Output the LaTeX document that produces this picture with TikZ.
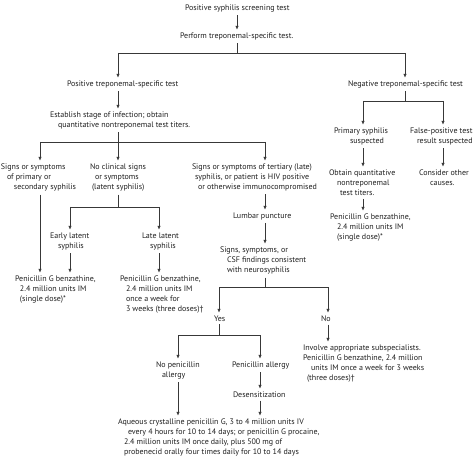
\documentclass[tikz,border=0pt]{standalone}
\usepackage{fontspec}
\setmainfont{PT Sans}
\usetikzlibrary{arrows.meta}
\begin{document}
\begin{tikzpicture}[x=1pt,y=-1pt,
  txt/.style={anchor=north west,inner sep=0pt,outer xsep=0pt,outer ysep=3.2pt,align=left,yshift=0.6pt,
    font=\fontsize{8}{10.2}\selectfont,text=black!88},
  ln/.style={draw=black!78,line width=0.6pt},
  arr/.style={ln,-{Triangle[length=3.6pt,width=3pt]}}]
\useasboundingbox (0,0) rectangle (474,457);
\newcommand\ind[1]{\hspace*{#1pt}}
% nodes (north west at line-1 centre minus 3)
\node[txt] (top) at (185,2) {Positive syphilis screening test};
\node[txt] (perform) at (180,30) {Perform treponemal-specific test.};
\node[txt] (postest) at (67,78) {Positive treponemal-specific test};
\node[txt] (negtest) at (348,78) {Negative treponemal-specific test};
\node[txt] (establish) at (50,109) {Establish stage of infection; obtain\\\ind{8}quantitative nontreponemal test titers.};
\node[txt] (primsusp) at (334,125) {Primary syphilis\\\ind{16}suspected};
\node[txt] (falsepos) at (410,125) {False-positive test\\\ind{7}result suspected};
\node[txt] (primsec) at (1,161) {Signs or symptoms\\\ind{6}of primary or\\\ind{13}secondary syphilis};
\node[txt] (noclin) at (90,161) {No clinical signs\\\ind{5}or symptoms\\\ind{2}(latent syphilis)};
\node[txt] (tertiary) at (192,161) {Signs or symptoms of tertiary (late)\\\ind{3}syphilis, or patient is HIV positive\\\ind{6}or otherwise immunocompromised};
\node[txt] (obtain) at (329,167) {Obtain quantitative\\\ind{8}nontreponemal\\\ind{11}test titers.};
\node[txt] (consider) at (419,167) {Consider other\\\ind{11}causes.};
\node[txt] (penright) at (330,211) {Penicillin G benzathine,\\\ind{7}2.4 million units IM\\\ind{7}(single dose)*};
\node[txt] (lumbar) at (233,210) {Lumbar puncture};
\node[txt] (early) at (50,230) {Early latent\\\ind{8}syphilis};
\node[txt] (late) at (142,230) {Late latent\\\ind{8}syphilis};
\node[txt] (csf) at (220,244) {Signs, symptoms, or\\\ind{7}CSF findings consistent\\\ind{7}with neurosyphilis};
\node[txt] (penearly) at (15,273) {Penicillin G benzathine,\\\ind{5}2.4 million units IM\\\ind{5}(single dose)*};
\node[txt] (penlate) at (120,273) {Penicillin G benzathine,\\\ind{6}2.4 million units IM\\\ind{6}once a week for\\\ind{6}3 weeks (three doses)†};
\node[txt] (yes) at (214,313) {Yes};
\node[txt] (no) at (321,313) {No};
\node[txt] (involve) at (303,342) {Involve appropriate subspecialists.\\Penicillin G benzathine, 2.4 million\\\ind{8}units IM once a week for 3 weeks\\\ind{4}(three doses)†};
\node[txt] (nopen) at (156,359) {No penicillin\\\ind{6}allergy};
\node[txt] (penallergy) at (232,359) {Penicillin allergy};
\node[txt] (desens) at (233,389) {Desensitization};
\node[txt,font=\fontsize{8}{10}\selectfont] (aqueous) at (118,416) {Aqueous crystalline penicillin G, 3 to 4 million units IV\\\ind{10}every 4 hours for 10 to 14 days; or penicillin G procaine,\\\ind{6}2.4 million units IM once daily, plus 500 mg of\\\ind{6}probenecid orally four times daily for 10 to 14 days};
% junctions
\coordinate (j0) at (237,53);
\coordinate (jpos) at (118,53);
\coordinate (jneg) at (405,53);
\coordinate (j2) at (118,142);
\coordinate (j2a) at (40,142);
\coordinate (j2c) at (265,142);
\coordinate (j3) at (405,101);
\coordinate (j3a) at (363,101);
\coordinate (j3b) at (443,101);
\coordinate (j4) at (118,207);
\coordinate (j4a) at (70,207);
\coordinate (j4b) at (159,207);
\coordinate (j5) at (265,287);
\coordinate (j5a) at (219,287);
\coordinate (j5b) at (328,287);
\coordinate (j6) at (219,335);
\coordinate (j6a) at (178,335);
\coordinate (j6b) at (260,335);
% connectors
\draw[arr] (top.south -| j0) -- (perform.north -| j0);
\draw[ln] (perform.south -| j0) -- (j0);
\draw[ln] (jpos) -- (jneg);
\draw[arr] (jpos) -- (postest.north -| jpos);
\draw[arr] (jneg) -- (negtest.north -| jneg);
\draw[arr] (postest.south -| jpos) -- (establish.north -| jpos);
\draw[ln] (establish.south -| j2) -- (j2);
\draw[ln] (j2a) -- (j2c);
\draw[arr] (j2a) -- (primsec.north -| j2a);
\draw[arr] (j2) -- (noclin.north -| j2);
\draw[arr] (j2c) -- (tertiary.north -| j2c);
\draw[ln] (negtest.south -| j3) -- (j3);
\draw[ln] (j3a) -- (j3b);
\draw[arr] (j3a) -- (primsusp.north -| j3a);
\draw[arr] (j3b) -- (falsepos.north -| j3b);
\draw[arr] (primsusp.south -| j3a) -- (obtain.north -| j3a);
\draw[arr] (obtain.south -| j3a) -- (penright.north -| j3a);
\draw[arr] (falsepos.south -| j3b) -- (consider.north -| j3b);
\draw[arr] (primsec.south -| j2a) -- (penearly.north -| j2a);
\draw[ln] (noclin.south -| j4) -- (j4);
\draw[ln] (j4a) -- (j4b);
\draw[arr] (j4a) -- (early.north -| j4a);
\draw[arr] (j4b) -- (late.north -| j4b);
\draw[arr] (early.south -| j4a) -- (penearly.north -| j4a);
\draw[arr] (late.south -| j4b) -- (penlate.north -| j4b);
\draw[arr] (tertiary.south -| j2c) -- (lumbar.north -| j2c);
\draw[arr] (lumbar.south -| j2c) -- (csf.north -| j2c);
\draw[ln] (csf.south -| j5) -- (j5);
\draw[ln] (j5a) -- (j5b);
\draw[arr] (j5a) -- (yes.north -| j5a);
\draw[arr] (j5b) -- (no.north -| j5b);
\draw[arr] (no.south -| j5b) -- (involve.north -| j5b);
\draw[ln] (yes.south -| j6) -- (j6);
\draw[ln] (j6a) -- (j6b);
\draw[arr] (j6a) -- (nopen.north -| j6a);
\draw[arr] (j6b) -- (penallergy.north -| j6b);
\draw[arr] (penallergy.south -| j6b) -- (desens.north -| j6b);
\draw[arr] (desens.south -| j6b) -- (aqueous.north -| j6b);
\draw[arr] (nopen.south -| j6a) -- (aqueous.north -| j6a);
\end{tikzpicture}
\end{document}
